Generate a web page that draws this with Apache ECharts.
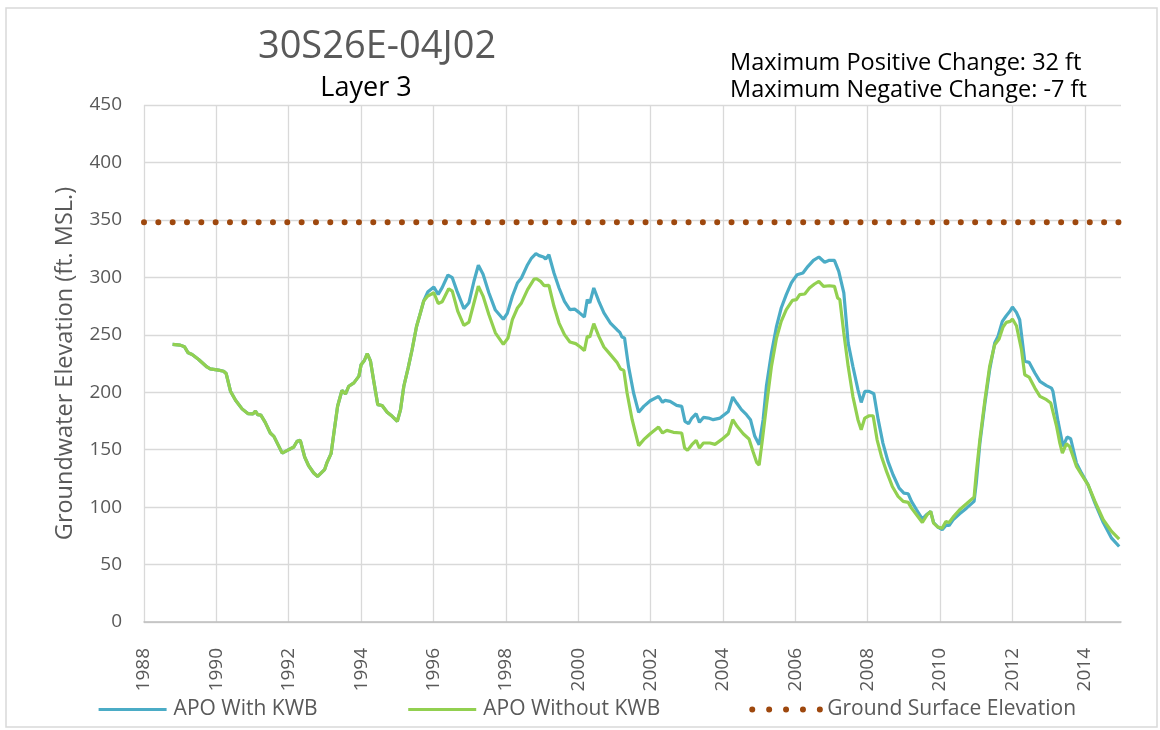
<!DOCTYPE html>
<html>
<head>
<meta charset="utf-8">
<script src="https://cdn.jsdelivr.net/npm/echarts@6/dist/echarts.min.js"></script>
<style>
html,body{margin:0;padding:0;background:#fff;}
#chart{width:1160px;height:730px;}
</style>
</head>
<body>
<div id="chart"></div>
<script>
// ---- DATA ----
const titleText = '30S26E-04J02';
const subtitleText = 'Layer 3';
const noteLines = ['Maximum Positive Change: 32 ft', 'Maximum Negative Change: -7 ft'];
const yAxisName = 'Groundwater Elevation (ft. MSL.)';
const seriesNames = ['APO With KWB', 'APO Without KWB', 'Ground Surface Elevation'];

// shared portion (both scenarios identical) [year, ft]
const sharedEarly = [
  [1988.79,241.6],[1989.0,241],[1989.12,239.5],[1989.22,234.3],[1989.33,232.8],[1989.51,228.5],
  [1989.74,222],[1989.83,220.3],[1990.06,219.2],[1990.2,218.3],[1990.27,216.3],[1990.39,200.9],
  [1990.53,193],[1990.71,185.5],[1990.87,181.4],[1991.01,181.1],[1991.08,183.7],[1991.14,180.5],
  [1991.23,180],[1991.35,173.8],[1991.49,164.5],[1991.59,161.6],[1991.82,147],[1991.95,149.1],
  [1992.14,152.3],[1992.23,157.3],[1992.32,158.1],[1992.44,143.6],[1992.55,136],[1992.69,129.7],
  [1992.8,126.7],[1992.99,132.6],[1993.06,139],[1993.17,146.5],[1993.26,167.4],[1993.35,187.8],
  [1993.47,201.5],[1993.57,198.5],[1993.66,205.2],[1993.8,208.1],[1993.94,214],[1994.0,224],
  [1994.09,227.6],[1994.17,233.7],[1994.26,227],[1994.35,209.6],[1994.46,189.2],[1994.58,188.4],
  [1994.72,182.6],[1994.86,179],[1995.0,174.7],[1995.09,184.9],[1995.18,205.2],[1995.3,221.2],
  [1995.41,237.2],[1995.53,257],[1995.64,269.2],[1995.73,279.4]
];

const withKwbLate = [
  [1995.84,287.2],[1996.01,291.6],[1996.13,285.2],[1996.24,291],[1996.4,302],[1996.52,299.7],
  [1996.65,288],[1996.84,272.7],[1996.98,277.9],[1997.12,296.8],[1997.24,310.5],[1997.37,302.6],
  [1997.53,286.6],[1997.71,271.5],[1997.93,263.5],[1998.04,268.6],[1998.18,283.5],[1998.32,295.1],
  [1998.43,299.4],[1998.6,311],[1998.71,316.8],[1998.83,320.6],[1998.92,318.9],[1999.04,317.7],
  [1999.1,316],[1999.19,319.7],[1999.33,303.8],[1999.47,290.7],[1999.62,279.1],[1999.77,271.9],
  [1999.9,272.4],[2000.02,269.5],[2000.17,265.5],[2000.25,280.6],[2000.32,277.7],[2000.43,290.7],
  [2000.57,279.1],[2000.71,269],[2000.89,260.2],[2001.07,254.4],[2001.15,252.1],[2001.21,248],
  [2001.28,247.2],[2001.39,222.5],[2001.53,199.3],[2001.67,182.5],[2001.81,187.7],[2001.99,192.6],
  [2002.22,196.4],[2002.33,191.2],[2002.4,192.9],[2002.54,192],[2002.72,188.6],[2002.86,187.7],
  [2002.95,174.6],[2003.05,172.6],[2003.14,177.5],[2003.26,181.3],[2003.35,173.8],[2003.46,178.1],
  [2003.6,177.5],[2003.73,176.1],[2003.92,177.5],[2004.15,183.3],[2004.27,195.8],[2004.38,190.6],
  [2004.51,184.8],[2004.65,180.4],[2004.76,176.1],[2004.88,161.6],[2005.0,154.3],[2005.11,176.1],
  [2005.2,205.1],[2005.34,234.1],[2005.48,257.3],[2005.61,273.3],[2005.75,284.9],[2005.89,295.1],
  [2005.95,298],[2006.05,302.3],[2006.21,303.8],[2006.35,309.6],[2006.5,314.8],[2006.65,317.7],
  [2006.81,313.1],[2006.94,314.8],[2007.08,314.8],[2007.2,305.2],[2007.34,286.4],[2007.46,242.8],
  [2007.59,222.5],[2007.73,202.2],[2007.82,191.1],[2007.92,200.7],[2008.04,200.7],[2008.17,198.7],
  [2008.29,176.1],[2008.42,155.7],[2008.56,139.8],[2008.7,128.2],[2008.87,116.5],[2009.0,112.2],
  [2009.12,111.6],[2009.21,105],[2009.35,97.7],[2009.51,89.5],[2009.62,93.3],[2009.74,96.2],
  [2009.82,86.6],[2009.94,82.6],[2010.06,80.3],[2010.18,84.6],[2010.25,84],[2010.36,89],
  [2010.54,94.2],[2010.73,99.1],[2010.94,105],[2011.0,120.9],[2011.1,155.7],[2011.24,190.6],
  [2011.37,219.6],[2011.51,242.8],[2011.6,248.6],[2011.72,261.7],[2011.83,266.6],[2011.93,270.4],
  [2012.0,274.2],[2012.11,269.5],[2012.2,263.1],[2012.34,226.9],[2012.46,226],[2012.62,216.7],
  [2012.76,209.4],[2012.94,205.7],[2013.08,203.6],[2013.12,200.7],[2013.26,174.6],[2013.4,152.8],
  [2013.51,161],[2013.61,159.5],[2013.77,138.3],[2013.91,129.6],[2014.09,119.4],[2014.28,103.5],
  [2014.51,86.6],[2014.74,73],[2014.95,65.7]
];

const withoutKwbLate = [
  [1995.84,283.7],[1996.01,286.6],[1996.13,277.3],[1996.24,278.8],[1996.42,290.1],[1996.52,288],
  [1996.67,270.6],[1996.84,258.1],[1996.98,261],[1997.12,277.9],[1997.24,292.4],[1997.37,283.7],
  [1997.53,267.7],[1997.71,251.7],[1997.93,241.6],[1998.06,247.2],[1998.18,263.1],[1998.32,273.3],
  [1998.43,277.7],[1998.6,289.3],[1998.78,298.5],[1998.85,298.8],[1998.96,296.5],[1999.06,292.7],
  [1999.19,293],[1999.33,274.8],[1999.47,260.2],[1999.62,250.1],[1999.77,243.7],[1999.93,242.3],
  [2000.06,239.4],[2000.17,236.2],[2000.25,248.6],[2000.32,248],[2000.43,259.7],[2000.57,248.6],
  [2000.71,239.4],[2000.89,232.7],[2001.07,226],[2001.17,220.2],[2001.26,219],[2001.35,199.3],
  [2001.49,176.1],[2001.67,153.5],[2001.81,158.7],[2001.99,163.9],[2002.22,169.7],[2002.33,164.5],
  [2002.45,166.8],[2002.63,165.1],[2002.86,164.5],[2002.94,151.4],[2003.02,149.4],[2003.14,154.3],
  [2003.26,158.1],[2003.35,151.4],[2003.46,155.8],[2003.64,155.8],[2003.78,154.6],[2003.96,158.7],
  [2004.15,163.9],[2004.27,176.1],[2004.39,170.3],[2004.56,163.9],[2004.72,159.3],[2004.83,148.5],
  [2004.93,139],[2005.0,136.6],[2005.09,158.7],[2005.2,187.7],[2005.34,222.5],[2005.48,247.2],
  [2005.61,261.7],[2005.75,271.9],[2005.92,280],[2006.03,280.6],[2006.12,284.9],[2006.26,285.5],
  [2006.39,290.7],[2006.53,294.2],[2006.65,296.5],[2006.78,292.2],[2006.94,292.7],[2007.08,292.2],
  [2007.17,282],[2007.23,280.6],[2007.34,251.5],[2007.46,222.5],[2007.59,196.4],[2007.73,176.1],
  [2007.82,167.3],[2007.92,177.5],[2008.04,179.5],[2008.15,179.5],[2008.26,158.6],[2008.38,144.1],
  [2008.52,131.1],[2008.68,118],[2008.84,109.3],[2008.98,105],[2009.12,104.1],[2009.21,99.1],
  [2009.35,93.3],[2009.51,86.6],[2009.64,93.3],[2009.74,96.2],[2009.82,86.1],[2009.94,82.6],
  [2010.06,81.7],[2010.16,87.5],[2010.25,86.6],[2010.36,91.3],[2010.54,97.7],[2010.73,102.9],
  [2010.94,108.7],[2011.0,129.6],[2011.1,158.6],[2011.24,193.5],[2011.37,222.5],[2011.51,241.4],
  [2011.63,246.3],[2011.74,256.7],[2011.83,260.8],[2011.94,261.7],[2012.0,263.7],[2012.11,257.9],
  [2012.25,237],[2012.34,215.2],[2012.46,213.2],[2012.62,203.6],[2012.76,196.4],[2012.94,193.5],
  [2013.06,190.6],[2013.22,170.2],[2013.31,155.7],[2013.38,147],[2013.49,155.1],[2013.58,152.8],
  [2013.77,135.4],[2013.91,128.2],[2014.09,119.4],[2014.28,104.9],[2014.51,89],[2014.74,78.8],
  [2014.95,72.1]
];

const groundYears = [1988, 2015];
const groundValues = [348, 348];

const xMin = 1988, xMax = 2015, xStep = 2;
const yMin = 0, yMax = 450, yStep = 50;

// ---- CHART ----
const FONT = 'Open Sans';
const withKwb = sharedEarly.concat(withKwbLate);
const withoutKwb = sharedEarly.concat(withoutKwbLate);
const ground = groundYears.map((y, i) => [y, groundValues[i]]);

const chart = echarts.init(document.getElementById('chart'), null, {renderer: 'canvas'});
chart.setOption({
  animation: false,
  backgroundColor: '#ffffff',
  textStyle: {fontFamily: FONT},
  grid: {left: 144, right: 39, top: 105, bottom: 108, containLabel: false},
  graphic: [
    {type: 'rect', shape: {x: 6, y: 8, width: 1151, height: 719},
     style: {fill: 'none', stroke: '#D9D9D9', lineWidth: 1.5}, silent: true},
    {type: 'text', x: 377, y: 47, style: {text: titleText, font: '38px "Open Sans"', fill: '#595959', align: 'center', verticalAlign: 'middle'}},
    {type: 'text', x: 366, y: 88, style: {text: subtitleText, font: '27px "Open Sans"', fill: '#000000', align: 'center', verticalAlign: 'middle'}},
    {type: 'text', x: 730, y: 63, style: {text: noteLines[0], font: '23.5px "Open Sans"', fill: '#000000', align: 'left', verticalAlign: 'middle'}},
    {type: 'text', x: 730, y: 90, style: {text: noteLines[1], font: '23.5px "Open Sans"', fill: '#000000', align: 'left', verticalAlign: 'middle'}}
  ],
  legend: {
    bottom: 5, left: 92,
    itemWidth: 68, itemHeight: 14, itemGap: 89,
    textStyle: {fontFamily: FONT, fontSize: 21, color: '#595959', padding: [0, 0, 0, 2]},
    itemStyle: {opacity: 0},
    lineStyle: {width: 'inherit'},
    data: [
      {name: seriesNames[0]},
      {name: seriesNames[1]},
      {name: seriesNames[2], lineStyle: {width: 6, type: [0, 16.9], cap: 'round'}}
    ]
  },
  xAxis: {
    type: 'value', min: xMin, max: xMax, interval: xStep,
    axisLine: {show: true, lineStyle: {color: '#BFBFBF', width: 1.5}},
    axisTick: {show: false},
    axisLabel: {rotate: 90, margin: 26, fontSize: 19, color: '#595959', fontFamily: FONT, showMaxLabel: false,
      formatter: v => String(v)},
    splitLine: {show: true, showMaxLine: false, lineStyle: {color: '#D9D9D9', width: 1.3}}
  },
  yAxis: {
    type: 'value', min: yMin, max: yMax, interval: yStep,
    name: yAxisName, nameLocation: 'middle', nameGap: 67, nameRotate: 90,
    nameTextStyle: {fontSize: 23.5, color: '#595959', fontFamily: FONT},
    axisLine: {show: false},
    axisTick: {show: false},
    axisLabel: {margin: 22, fontSize: 19, color: '#595959', fontFamily: FONT},
    splitLine: {show: true, lineStyle: {color: '#D9D9D9', width: 1.3}}
  },
  series: [
    {name: seriesNames[0], type: 'line', data: withKwb, symbol: 'none',
     lineStyle: {color: '#4BACC6', width: 3.2}, itemStyle: {color: '#4BACC6'}, z: 2},
    {name: seriesNames[1], type: 'line', data: withoutKwb, symbol: 'none',
     lineStyle: {color: '#92D050', width: 3.2}, itemStyle: {color: '#92D050'}, z: 3},
    {name: seriesNames[2], type: 'line', data: ground, symbol: 'none',
     lineStyle: {color: '#9E480E', width: 6, type: [0, 14.33], cap: 'round'}, itemStyle: {color: '#9E480E'}, z: 4}
  ]
});
</script>
</body>
</html>
